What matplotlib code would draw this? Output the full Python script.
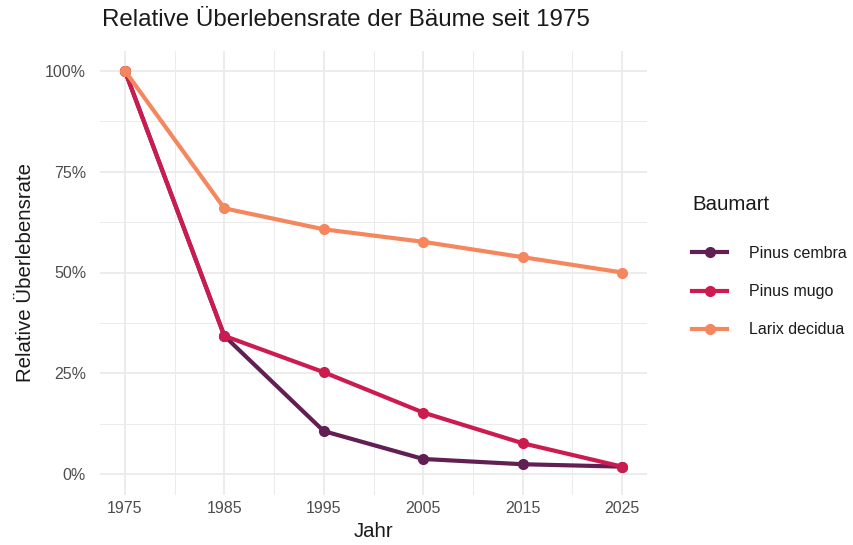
import matplotlib
matplotlib.use("Agg")
import matplotlib.pyplot as plt
from matplotlib.ticker import FixedLocator, FuncFormatter
from matplotlib.lines import Line2D

plt.rcParams['font.family'] = ['Liberation Sans', 'DejaVu Sans']

years = [1975, 1985, 1995, 2005, 2015, 2025]
species = ["Pinus cembra", "Pinus mugo", "Larix decidua"]
pinus_cembra = [100, 34.3, 10.7, 3.8, 2.5, 1.9]
pinus_mugo = [100, 34.3, 25.3, 15.3, 7.7, 1.9]
larix_decidua = [100, 65.9, 60.7, 57.6, 53.8, 50.0]
colors = ["#611F53", "#CB1B4F", "#F4875E"]
series = [pinus_cembra, pinus_mugo, larix_decidua]

W, H = 854, 545
fig = plt.figure(figsize=(W / 100, H / 100), dpi=100)
left, right, top, bottom = 100, 647, 50.5, 494.5
ax = fig.add_axes([left / W, 1 - bottom / H, (right - left) / W, (bottom - top) / H])

ax.set_xlim(1972.5, 2027.5)
ax.set_ylim(-5, 105)

order = [2, 0, 1]
for i in order:
    ax.plot(years, series[i], color=colors[i], lw=3, marker="o", ms=7,
            solid_capstyle="butt", zorder=3 + i)

ax.xaxis.set_major_locator(FixedLocator(years))
ax.xaxis.set_minor_locator(FixedLocator([1980, 1990, 2000, 2010, 2020]))
ax.yaxis.set_major_locator(FixedLocator([0, 25, 50, 75, 100]))
ax.yaxis.set_minor_locator(FixedLocator([12.5, 37.5, 62.5, 87.5]))
ax.yaxis.set_major_formatter(FuncFormatter(lambda v, p: f"{int(v)}%"))

ax.grid(which="major", color="#EBEBEB", lw=1.3)
ax.grid(which="minor", color="#EBEBEB", lw=0.7)
ax.set_axisbelow(True)
for s in ax.spines.values():
    s.set_visible(False)
ax.tick_params(which="both", length=0)
ax.tick_params(axis="both", labelsize=11.5, labelcolor="#4D4D4D")
ax.tick_params(axis="y", pad=10)
ax.tick_params(axis="x", pad=5)

ax.set_xlabel("Jahr", fontsize=14.7, color="#1A1A1A", labelpad=4)
ax.set_ylabel("Relative Überlebensrate", fontsize=14.7, color="#1A1A1A", labelpad=7)

fig.text(102 / W, 1 - 20 / H, "Relative Überlebensrate der Bäume seit 1975",
         fontsize=17.4, color="#1A1A1A", va="center", ha="left")

handles = [Line2D([], [], color=c, lw=3, marker="o", ms=7) for c in colors]
leg = fig.legend(handles, species, title="Baumart", loc="upper left",
                 bbox_to_anchor=(684 / W, 1 - 187 / H), frameon=False,
                 fontsize=11.5, title_fontsize=14.7, handlelength=2.2,
                 labelspacing=1.45, handletextpad=1.4, alignment="left",
                 borderpad=0)
leg.get_title().set_color("#1A1A1A")
for t in leg.get_texts():
    t.set_color("#1A1A1A")
leg._legend_box.sep = 23

fig.savefig("out.png", dpi=100)
